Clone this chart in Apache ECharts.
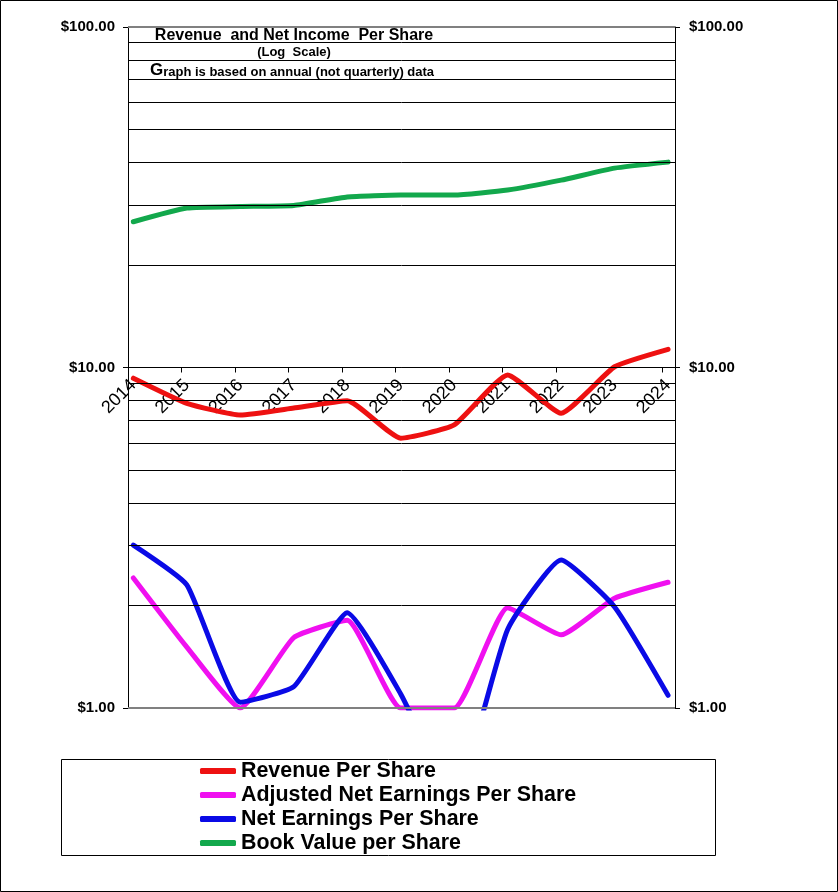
<!DOCTYPE html>
<html>
<head>
<meta charset="utf-8">
<script src="https://cdn.jsdelivr.net/npm/echarts@6.0.0/dist/echarts.min.js"></script>
<style>
html,body{margin:0;padding:0;background:#fff;}
#chart{width:838px;height:892px;}
</style>
</head>
<body>
<div id="chart"></div>
<script>
// ---- data ----
const years = [2014, 2015, 2016, 2017, 2018, 2019, 2020, 2021, 2022, 2023, 2024];
const revenuePerShare = [9.30, 7.85, 7.25, 7.60, 7.99, 6.20, 6.78, 9.51, 7.34, 10.05, 11.31];
const adjNetEarningsPerShare = [2.41, 1.51, 1.00, 1.61, 1.81, 1.00, 1.00, 1.97, 1.64, 2.10, 2.34];
const netEarningsPerShare = [3.01, 2.30, 1.04, 1.155, 1.905, 1.10, 0.55, 1.70, 2.72, 1.98, 1.09];
const bookValuePerShare = [26.8, 29.4, 29.7, 29.9, 31.7, 32.1, 32.1, 33.2, 35.5, 38.5, 40.1];
const seriesNames = ['Revenue Per Share', 'Adjusted Net Earnings Per Share', 'Net Earnings Per Share', 'Book Value per Share'];
const yTickLabels = [1, 10, 100];
const gridValues = [2, 3, 4, 5, 6, 7, 8, 9, 10, 20, 30, 40, 50, 60, 70, 80, 90];
const borderValues = [1, 100];
const xTickValues = [2013.9, 2014.9, 2015.9, 2016.9, 2017.9, 2018.9, 2019.9, 2020.9, 2021.9, 2022.9, 2023.9];

const FONT = 'Liberation Sans, Arial, sans-serif';
const pair = arr => years.map((y, i) => [y, arr[i]]);

const chart = echarts.init(document.getElementById('chart'), null, {renderer: 'canvas'});

const gridMarks = gridValues.map(v => ({yAxis: v, lineStyle: {color: '#000', width: 1, type: 'solid'}}))
  .concat(borderValues.map(v => ({yAxis: v, lineStyle: {color: '#808080', width: 2, type: 'solid'}})));

function lineSeries(name, data, color) {
  return {
    name: name, type: 'line', data: pair(data), z: 3,
    showSymbol: false, symbol: 'none', smooth: 0.15,
    lineStyle: {color: color, width: 5, cap: 'round', join: 'round'},
    itemStyle: {color: color},
    silent: true, clip: true
  };
}

const yLabelFmt = v => (yTickLabels.indexOf(Math.round(v)) >= 0 ? '$' + Number(v).toFixed(2) : '');

const option = {
  animation: false,
  backgroundColor: '#fff',
  textStyle: {fontFamily: FONT},
  grid: {left: 128, right: 163, top: 27, bottom: 184, containLabel: false},
  xAxis: {
    type: 'value', min: 2013.9, max: 2024.13,
    position: 'bottom', offset: -340.5,
    axisLine: {show: true, onZero: false, lineStyle: {color: '#000', width: 1}},
    axisTick: {show: true, customValues: xTickValues, length: 5, inside: false, lineStyle: {color: '#000'}},
    axisLabel: {
      show: true, customValues: years, rotate: 45, margin: 15,
      formatter: v => String(Math.round(v)),
      fontSize: 18, color: '#000', fontFamily: FONT
    },
    splitLine: {show: false}
  },
  yAxis: [
    {
      type: 'log', logBase: 10, min: 1, max: 100, position: 'left',
      axisLine: {show: true, lineStyle: {color: '#000', width: 1}},
      axisTick: {show: true, length: 5, inside: false, lineStyle: {color: '#000'}},
      axisLabel: {show: true, margin: 13, fontSize: 15, fontWeight: 'bold', color: '#000', fontFamily: FONT, formatter: yLabelFmt},
      splitLine: {show: false}, minorTick: {show: false}
    },
    {
      type: 'log', logBase: 10, min: 1, max: 100, position: 'right',
      axisLine: {show: true, lineStyle: {color: '#000', width: 1}},
      axisTick: {show: true, length: 5, inside: false, lineStyle: {color: '#000'}},
      axisLabel: {show: true, margin: 14, fontSize: 15, fontWeight: 'bold', color: '#000', fontFamily: FONT, formatter: yLabelFmt},
      splitLine: {show: false}
    }
  ],
  legend: {
    orient: 'vertical', left: 200, top: 759,
    itemWidth: 36, itemHeight: 6, itemGap: 0, icon: 'roundRect',
    selectedMode: false, padding: 0,
    textStyle: {fontSize: 21.4, fontWeight: 'bold', color: '#000', fontFamily: FONT, lineHeight: 24},
    data: seriesNames
  },
  graphic: [
    {type: 'rect', shape: {x: 0.5, y: 0.5, width: 837, height: 891}, style: {fill: 'none', stroke: '#000', lineWidth: 1}, silent: true, z: 0},
    {type: 'rect', shape: {x: 61.5, y: 759.5, width: 654, height: 96}, style: {fill: 'none', stroke: '#000', lineWidth: 1}, silent: true, z: 0},
    {type: 'text', x: 294, y: 36, style: {text: 'Revenue  and Net Income  Per Share', align: 'center', verticalAlign: 'middle', font: 'bold 16px ' + FONT, fill: '#000'}, z: 10},
    {type: 'text', x: 294, y: 52, style: {text: '(Log  Scale)', align: 'center', verticalAlign: 'middle', font: 'bold 13px ' + FONT, fill: '#000'}, z: 10},
    {type: 'text', x: 292, y: 70, style: {
      text: '{g|G}{r|raph is based on annual (not quarterly) data}', align: 'center', verticalAlign: 'middle', fill: '#000',
      rich: {g: {fontSize: 17, fontWeight: 'bold', fontFamily: FONT, fill: '#000', verticalAlign: 'bottom'},
             r: {fontSize: 13, fontWeight: 'bold', fontFamily: FONT, fill: '#000', verticalAlign: 'bottom'}}
    }, z: 10}
  ],
  series: [
    {
      name: '__grid', type: 'line', data: [], z: 1, silent: true,
      markLine: {silent: true, symbol: 'none', animation: false, label: {show: false}, data: gridMarks}
    },
    lineSeries(seriesNames[0], revenuePerShare, '#ee1111'),
    lineSeries(seriesNames[1], adjNetEarningsPerShare, '#f010f0'),
    lineSeries(seriesNames[2], netEarningsPerShare, '#0a0ae6'),
    lineSeries(seriesNames[3], bookValuePerShare, '#12a84c')
  ]
};
chart.setOption(option);
</script>
</body>
</html>
